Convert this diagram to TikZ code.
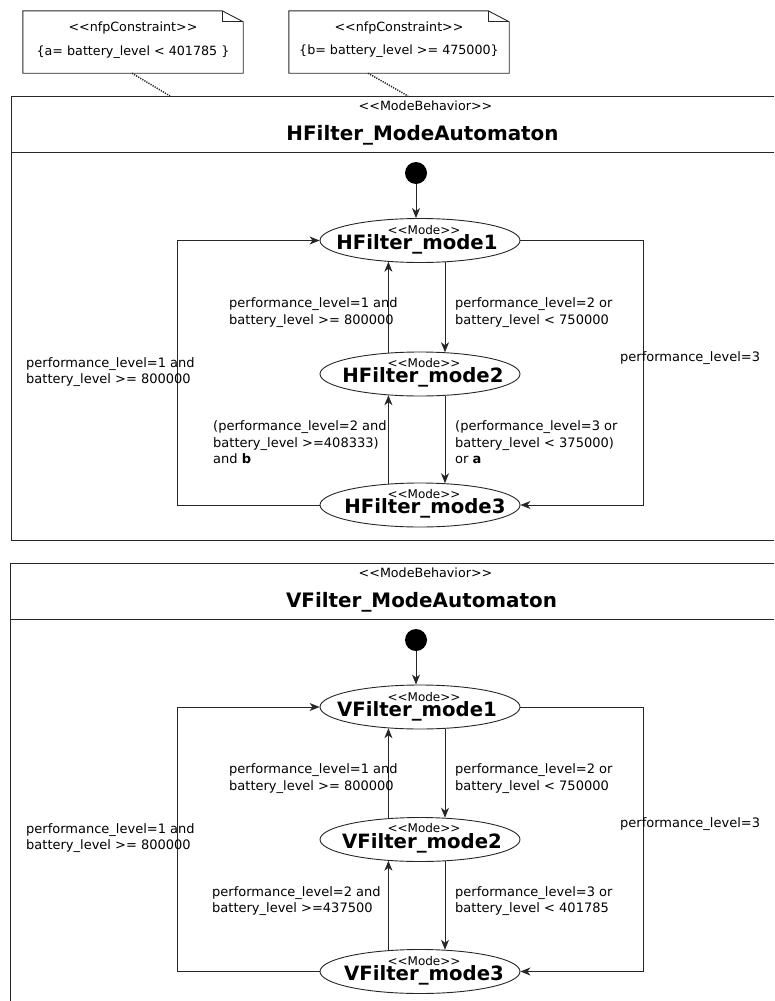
\documentclass[tikz,border=0pt]{standalone}
\usepackage{fontspec}
\setmainfont{DejaVu Sans}[Ligatures={NoCommon}]
\usetikzlibrary{arrows.meta,shapes.geometric}
\newcommand\gsopen{<{}<}
\newcommand\gsclose{>{}>}
\tikzset{
  ln/.style={line width=0.9pt, draw=black!85},
  arr/.style={ln, -{Stealth[length=10pt,width=8pt,inset=3pt]}},
  dotline/.style={line width=1.5pt, draw=black!85, dash pattern=on 1.2pt off 1.2pt},
  state/.style={ellipse, draw=black!85, line width=0.9pt, minimum width=200pt, minimum height=44pt, inner sep=0pt},
  initdot/.style={circle, fill=black, minimum size=22pt, inner sep=0pt},
  stereo/.style={anchor=base, inner sep=0pt, font=\fontsize{12}{13}\selectfont},
  sname/.style={anchor=base, inner sep=0pt, font=\fontsize{19.7}{22}\selectfont\bfseries},
  lbl/.style={anchor=west, inner sep=0pt, align=left, font=\fontsize{13}{16.5}\selectfont},
  hstereo/.style={anchor=base, inner sep=0pt, font=\fontsize{12.7}{15}\selectfont},
  htitle/.style={anchor=base, inner sep=0pt, font=\fontsize{19.9}{22}\selectfont\bfseries},
  notebox/.style={minimum width=220pt, minimum height=62pt, inner sep=0pt},
  ntext/.style={inner sep=0pt, font=\fontsize{12.7}{15}\selectfont},
}
\begin{document}
\begin{tikzpicture}[x=1pt,y=-1pt]
\useasboundingbox (0,0) rectangle (774,1001);

% ---------- notes ----------
\node[notebox] (nA) at (133,42) {};
\draw[ln] (nA.south west) -- (nA.north west) -- ([xshift=-21pt]nA.north east)
  -- ([yshift=-11pt]nA.north east) -- (nA.south east) -- cycle;
\draw[ln] ([xshift=-21pt]nA.north east) |- ([yshift=-11pt]nA.north east);
\node[ntext] (nAs) at (133,28) {\gsopen nfpConstraint\gsclose};
\node[ntext] (nAt) at (133,52) {\{a= battery\_level < 401785 \}};

\node[notebox] (nB) at (399,42) {};
\draw[ln] (nB.south west) -- (nB.north west) -- ([xshift=-21pt]nB.north east)
  -- ([yshift=-11pt]nB.north east) -- (nB.south east) -- cycle;
\draw[ln] ([xshift=-21pt]nB.north east) |- ([yshift=-11pt]nB.north east);
\node[ntext] (nBs) at (399,28) {\gsopen nfpConstraint\gsclose};
\node[ntext] (nBt) at (399,51) {\{b= battery\_level >= 475000\}};

\coordinate (fA) at (170,96);
\coordinate (fB) at (408,96);
\draw[dotline] ([xshift=-1pt]nA.south) -- (fA);
\draw[dotline] ([xshift=-31pt]nB.south) -- (fB);

% ---------- frame 1 ----------
\draw[ln] (774,96) -- (11,96) -- (11,540) -- (774,540);
\draw[ln] (11,152) -- (774,152);
\node[hstereo] (f1s) at (425.5,110.7) {\gsopen ModeBehavior\gsclose};
\node[htitle] (f1t) at (422.5,140) {HFilter\_ModeAutomaton};

\node[initdot] (i1) at (416,173) {};
\node[state] (h1) at (420,240.5) {};
\node[stereo] (h1s) at (424,234) {\gsopen Mode\gsclose};
\node[sname] (h1n) at (417,249.5) {HFilter\_mode1};
\node[state] (h2) at (420,374) {};
\node[stereo] (h2s) at (424,367) {\gsopen Mode\gsclose};
\node[sname] (h2n) at (423,382.5) {HFilter\_mode2};
\node[state] (h3) at (420,505) {};
\node[stereo] (h3s) at (424,498.5) {\gsopen Mode\gsclose};
\node[sname] (h3n) at (425,513.5) {HFilter\_mode3};

\coordinate (L1) at (177,0);
\coordinate (R1) at (643,0);
\draw[arr] (i1) -- (i1 |- h1.north);
\draw[arr] (h1.-41.67) -- (h1.-41.67 |- h2.41.67);
\draw[arr] (h2.146.92) -- (h2.146.92 |- h1.213.08);
\draw[arr] (h2.-41.67) -- (h2.-41.67 |- h3.41.67);
\draw[arr] (h3.146.92) -- (h3.146.92 |- h2.213.08);
\draw[arr] (h3.west) -- (h3.west -| L1) -- (h1.west -| L1) -- (h1.west);
\draw[arr] (h1.east) -- (h1.east -| R1) -- (h3.east -| R1) -- (h3.east);

\node[lbl] (a1) at (229,312.5) {performance\_level=1 and\\battery\_level >= 800000};
\node[lbl] (a2) at (455,312.5) {performance\_level=2 or\\battery\_level < 750000};
\node[lbl] (a3) at (213,442.5) {(performance\_level=2 and\\battery\_level >=408333)\\and \textbf{b}};
\node[lbl] (a4) at (455,442.5) {(performance\_level=3 or\\battery\_level < 375000)\\or \textbf{a}};
\node[lbl] (a5) at (26,372) {performance\_level=1 and\\battery\_level >= 800000};
\node[lbl] (a6) at (620,358) {performance\_level=3};

% ---------- frame 2 ----------
\draw[ln] (774,563) -- (10,563) -- (10,1005);
\draw[ln] (10,619) -- (774,619);
\node[hstereo] (f2s) at (425.5,577.5) {\gsopen ModeBehavior\gsclose};
\node[htitle] (f2t) at (421.5,607) {VFilter\_ModeAutomaton};

\node[initdot] (i2) at (416,640) {};
\node[state] (v1) at (420,707) {};
\node[stereo] (v1s) at (424,701) {\gsopen Mode\gsclose};
\node[sname] (v1n) at (417,716.5) {VFilter\_mode1};
\node[state] (v2) at (420,839.5) {};
\node[stereo] (v2s) at (424,832.5) {\gsopen Mode\gsclose};
\node[sname] (v2n) at (422,848.5) {VFilter\_mode2};
\node[state] (v3) at (420,971.5) {};
\node[stereo] (v3s) at (424,965) {\gsopen Mode\gsclose};
\node[sname] (v3n) at (424,980) {VFilter\_mode3};

\coordinate (L2) at (177,0);
\coordinate (R2) at (643,0);
\draw[arr] (i2) -- (i2 |- v1.north);
\draw[arr] (v1.-41.67) -- (v1.-41.67 |- v2.41.67);
\draw[arr] (v2.146.92) -- (v2.146.92 |- v1.213.08);
\draw[arr] (v2.-41.67) -- (v2.-41.67 |- v3.41.67);
\draw[arr] (v3.146.92) -- (v3.146.92 |- v2.213.08);
\draw[arr] (v3.west) -- (v3.west -| L2) -- (v1.west -| L2) -- (v1.west);
\draw[arr] (v1.east) -- (v1.east -| R2) -- (v3.east -| R2) -- (v3.east);

\node[lbl] (b1) at (229,778.5) {performance\_level=1 and\\battery\_level >= 800000};
\node[lbl] (b2) at (455,778.5) {performance\_level=2 or\\battery\_level < 750000};
\node[lbl] (b3) at (212,901) {performance\_level=2 and\\battery\_level >=437500};
\node[lbl] (b4) at (455,901) {performance\_level=3 or\\battery\_level < 401785};
\node[lbl] (b5) at (26,838) {performance\_level=1 and\\battery\_level >= 800000};
\node[lbl] (b6) at (620,824) {performance\_level=3};
\end{tikzpicture}
\end{document}
